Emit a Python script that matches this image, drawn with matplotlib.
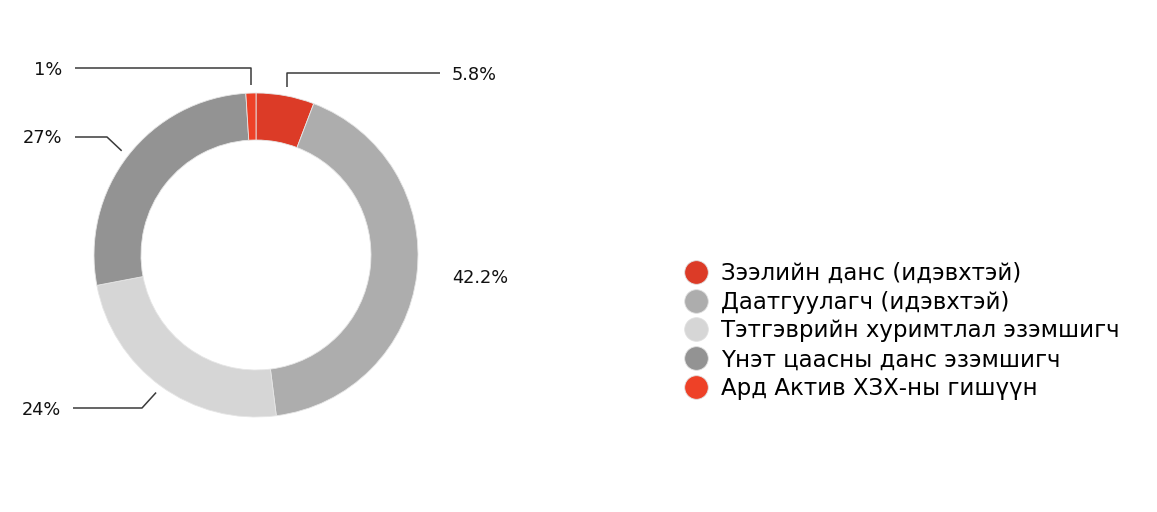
import numpy as np
import matplotlib
matplotlib.use("Agg")
import matplotlib.pyplot as plt
from matplotlib.lines import Line2D

plt.rcParams['font.family'] = ['DejaVu Sans']

# data
categories = ["Зээлийн данс (идэвхтэй)", "Даатгуулагч (идэвхтэй)",
              "Тэтгэврийн хуримтлал эзэмшигч", "Үнэт цаасны данс эзэмшигч",
              "Ард Актив ХЗХ-ны гишүүн"]
shares = [5.8, 42.2, 24, 27, 1]
labels = ["5.8%", "42.2%", "24%", "27%", "1%"]
colors = ["#dc3b27", "#adadad", "#d6d6d6", "#939393", "#ee4127"]

W, H = 1157, 512
fig = plt.figure(figsize=(W / 100, H / 100), dpi=100)
ax = fig.add_axes([0, 0, 1, 1])

cx, cy, r = 256, H - 255, 162
wedges, _ = ax.pie(shares, colors=colors, startangle=90, counterclock=False,
                   center=(cx, cy), radius=r,
                   wedgeprops=dict(width=47, edgecolor="#e6e6e6", linewidth=0.6))
ax.set_xlim(0, W)
ax.set_ylim(0, H)
ax.set_aspect("equal")
ax.axis("off")

line_kw = dict(color="#3a3a3a", lw=1.1, solid_capstyle="butt")
txt_kw = dict(fontsize=12.8, color="#111111", va="center")


def anchor(w, rad=170):
    a = np.deg2rad((w.theta1 + w.theta2) / 2)
    return cx + rad * np.cos(a), cy + rad * np.sin(a)


# leader lines (elbow/text positions are layout only)
ax_, ay_ = anchor(wedges[0], 171)
ax.plot([ax_, ax_, 440], [ay_, H - 73, H - 73], **line_kw)
ax.text(452, H - 75, labels[0], ha="left", **txt_kw)

ax.text(452, H - 278, labels[1], ha="left", **txt_kw)

ax_, ay_ = anchor(wedges[2])
ax.plot([ax_, 142, 73], [ay_, H - 408, H - 408], **line_kw)
ax.text(61, H - 410, labels[2], ha="right", **txt_kw)

ax_, ay_ = anchor(wedges[3])
ax.plot([ax_, 107, 75], [ay_, H - 137, H - 137], **line_kw)
ax.text(62, H - 138, labels[3], ha="right", **txt_kw)

ax_, ay_ = anchor(wedges[4])
ax.plot([ax_, ax_, 75], [ay_, H - 68, H - 68], **line_kw)
ax.text(62, H - 70, labels[4], ha="right", **txt_kw)

handles = [Line2D([], [], marker="o", ls="", markersize=17, color=c,
                  markeredgecolor="#e0e0e0", markeredgewidth=0.6) for c in colors]
ax.legend(handles, categories, loc="center left",
          bbox_to_anchor=(685, H - 331), bbox_transform=ax.transData,
          frameon=False, fontsize=16.5, handlelength=0.95, handletextpad=0.62,
          labelspacing=0.26, borderpad=0, borderaxespad=0)

fig.savefig("out.png", dpi=100)
